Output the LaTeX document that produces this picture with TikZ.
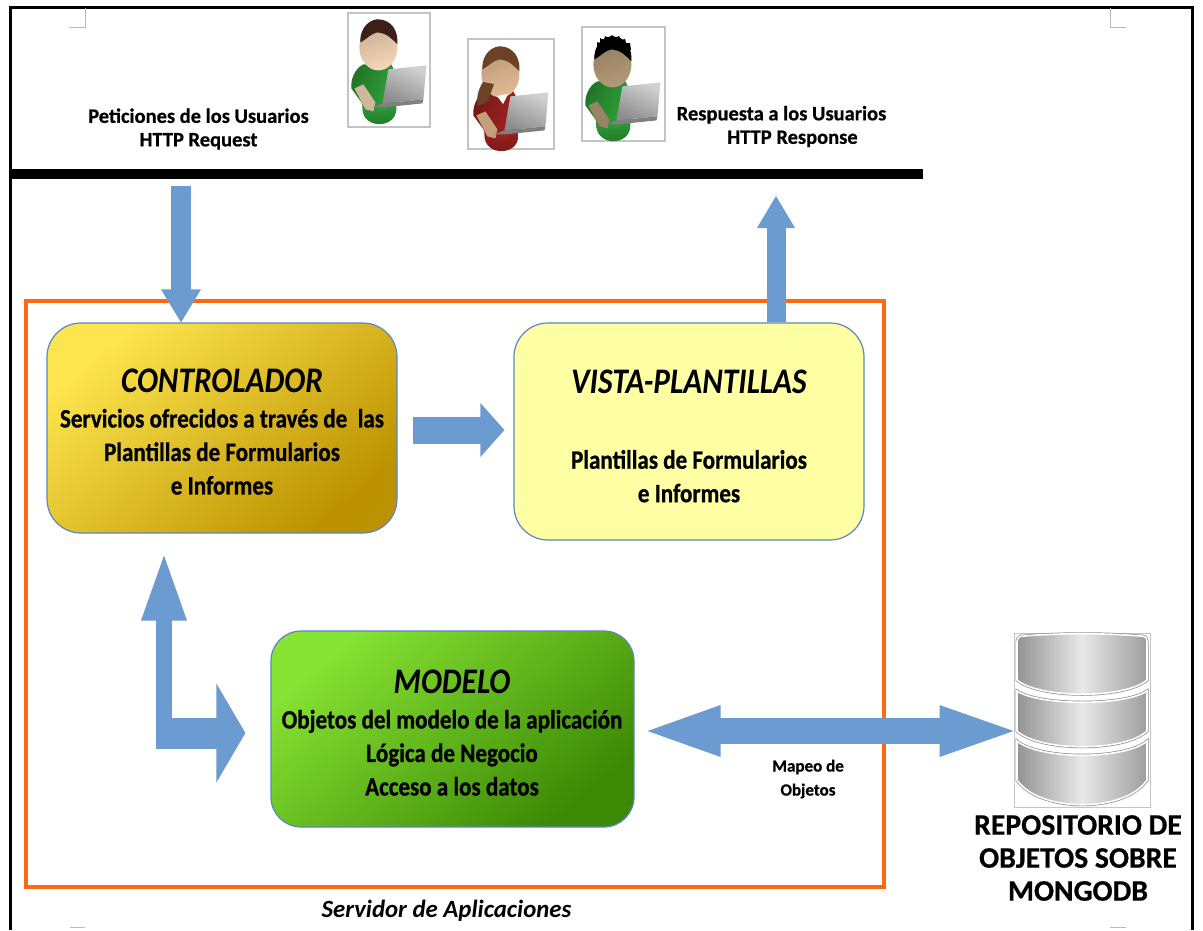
\documentclass[tikz,border=0pt]{standalone}
\usepackage{fontspec}
\setmainfont[BoldFeatures={FakeBold=0.6}]{Carlito}
\newfontfamily\condfont[FakeStretch=0.87,BoldFeatures={FakeBold=0.8}]{Carlito}
\usetikzlibrary{arrows.meta,calc,shadings}
\definecolor{arrowblue}{HTML}{6C9BD1}
\definecolor{boxedge}{HTML}{5B87BF}
\definecolor{serverorange}{HTML}{F96B12}
\definecolor{goldA}{HTML}{FDE54D}
\definecolor{goldB}{HTML}{BC9200}
\definecolor{greenA}{HTML}{86E233}
\definecolor{greenB}{HTML}{3C8905}
\definecolor{paleyellow}{HTML}{FFFFA3}
\definecolor{frameGray}{HTML}{C4C4C4}
\definecolor{shirtGreen}{HTML}{2FA53A}
\definecolor{shirtRed}{HTML}{A5231F}
\definecolor{skinA}{HTML}{F6D6B8}
\definecolor{skinB}{HTML}{E4BC94}
\definecolor{skinC}{HTML}{B49A78}
\definecolor{hairBrown}{HTML}{6B4226}
\definecolor{hairDark}{HTML}{3A2018}
\tikzset{
  x=1pt,y=-1pt,
  flow/.style={draw=arrowblue,line cap=butt},
  % repaints the shaft a little way into the arrow heads so no seam shows
  shaftover/.style 2 args={postaction={draw=arrowblue,arrows=-,shorten <=#1,shorten >=#2}},
  procbox/.style={draw=boxedge,line width=1.2pt,rounded corners=34pt,inner sep=0pt},
  boxtext/.style={align=center,inner sep=0pt,font=\condfont\bfseries\fontsize{26.5}{33.5}\selectfont},
  caption/.style={align=center,inner sep=0pt,font=\bfseries\fontsize{20.5}{23.5}\selectfont},
  cropmark/.style={draw=black!28,line width=1pt},
  dbseg/.style={left color=black!42,right color=black!38,middle color=black!9,draw=white,line width=1.6pt,
    preaction={draw=black!45,line width=3pt}},
  portrait/.style={draw=frameGray,line width=1.2pt,fill=white,inner sep=0pt}
}
% One person with a laptop: frame node name, centre x, centre y, width, height,
% figure shift x, figure shift y, shirt, skin; the hair colour comes from \hairtone
\newcommand{\usericon}[9]{%
  \node[portrait,minimum width=#4,minimum height=#5] (#1) at (#2,#3) {};
  \begin{scope}[shift={($(#1.north west)+(#6,#7)$)}]
    \shade[top color=#8,bottom color=#8!70!black] (15,96) .. controls (15,117) and (49,117) .. (49,96) -- (49,85) -- (15,85) -- cycle;
    \shade[left color=#8!70!black,right color=#8,shading angle=70]
      (16,52) .. controls (7,56) and (3,68) .. (4,76) -- (14,90) -- (18,100) -- (38,98) -- (48,60) -- (44,52) -- cycle;
    \fill[#9!85!black] (7,76) -- (16,72) -- (28,90) -- (26,99) -- (18,97) -- cycle;
    \shade[left color=#9!82!black,right color=#9,shading angle=20] (31,35) ellipse [x radius=19,y radius=23];
    \fill[\hairtone] (13,30) .. controls (12,14) and (24,6) .. (32,7) .. controls (44,8) and (51,18) .. (50,32) .. controls (44,26) and (40,21) .. (30,20) .. controls (24,21) and (20,26) .. (13,30) -- cycle;
    \shade[top color=black!18,bottom color=black!45,shading angle=-25] (41,57) -- (79,53) -- (76,87) -- (35,91) -- cycle;
    \fill[black!50] (25,95) -- (35,91) -- (76,87) -- (75,91) -- (36,95) -- cycle;
  \end{scope}}
\begin{document}
\begin{tikzpicture}
  \useasboundingbox (0,0) rectangle (1203,930);
  \fill[white] (0,0) rectangle (1203,930);

  % page border and margin marks
  \draw[line width=3pt] (10.5,930) -- (10.5,7) -- (1192,7) -- (1192,930);
  \draw[cropmark] (85,8) -- (85,27) -- (69,27);
  \draw[cropmark] (1110,8) -- (1110,27) -- (1126,27);
  \draw[cropmark] (70,927) -- (85,927);
  \draw[cropmark] (1110,927) -- (1126,927);

  % users
  \def\hairtone{hairDark}
  \usericon{userA}{389}{70}{82}{114}{0}{0}{shirtGreen}{skinA}
  \def\hairtone{hairBrown}
  \usericon{userB}{511}{94}{86}{110}{2}{1}{shirtRed}{skinB}
  \fill[hairBrown] (483,82) .. controls (478,90) and (476,98) .. (478,106) -- (488,101) -- (494,84) -- cycle;
  \fill[white] (497,96) -- (503,104) -- (508,94) -- cycle;
  \def\hairtone{black}
  \usericon{userC}{623.5}{84}{83}{114}{0}{3}{shirtGreen}{skinC}
  % short spiky hair
  \fill[black] (597,47) -- (597,42) -- (600,43) -- (600,38) -- (604,40) -- (605,36) -- (609,38) -- (612,35) -- (615,38) -- (619,36) -- (621,40) -- (625,39) -- (626,43) -- (630,43) -- (631,50) -- (612,44) -- cycle;

  \node[caption] (request) at (198.5,129) {Peticiones de los Usuarios\\HTTP Request};
  \node[caption] (response) at (781.5,126.5) {Respuesta a los Usuarios\\\hspace*{22pt}HTTP Response};

  % network bar
  \node[fill=black,inner sep=0pt,minimum width=913,minimum height=10] (network) at (466.5,174) {};

  % application server frame
  \node[draw=serverorange,line width=4pt,inner sep=0pt,minimum width=858,minimum height=586] (server) at (455,594) {};
  \node[inner sep=0pt,font=\bfseries\itshape\fontsize{24.8}{24.8}\selectfont] (servername) at (446.5,911) {Servidor de Aplicaciones};

  % components
  \node[procbox,minimum width=350,minimum height=210,left color=goldA,right color=goldB,middle color=goldA!50!goldB,shading angle=40] (ctrl) at (222,428) {};
  \node[procbox,minimum width=350,minimum height=217,fill=paleyellow] (view) at (689,431.5) {};
  \node[procbox,minimum width=363,minimum height=196,left color=greenA,right color=greenB,middle color=greenA!50!greenB,shading angle=40,rounded corners=30pt] (model) at (452.5,729) {};

  \node[boxtext] (ctrltext) at (222,432) {{\fontsize{36}{36}\selectfont\itshape CONTROLADOR}\\[1pt]Servicios ofrecidos a través de\ \ las\\Plantillas de Formularios\\e Informes};
  \node[boxtext] (viewtext) at (689,436) {{\fontsize{36}{36}\selectfont\itshape VISTA-PLANTILLAS}\\[42pt]Plantillas de Formularios\\e Informes};
  \node[boxtext] (modeltext) at (452,733) {{\fontsize{36}{36}\selectfont\itshape MODELO}\\[1pt]Objetos del modelo de la aplicación\\Lógica de Negocio\\Acceso a los datos};

  % object repository
  \node[draw=frameGray,line width=1pt,fill=white,inner sep=0pt,minimum width=136,minimum height=174] (db) at (1082,720) {};
  \path[dbseg] (1017,642) .. controls (1017,637) and (1020,636) .. (1024,636) .. controls (1060,633) and (1105,633) .. (1140,636) .. controls (1145,636) and (1147,637) .. (1147,642) -- (1147,680) .. controls (1125,699) and (1040,699) .. (1017,680) -- cycle;
  \path[dbseg] (1017,691) .. controls (1040,706) and (1125,706) .. (1147,691) -- (1147,731) .. controls (1125,752) and (1040,752) .. (1017,731) -- cycle;
  \path[dbseg] (1017,741) .. controls (1040,760) and (1125,760) .. (1147,741) -- (1147,780) .. controls (1125,813) and (1040,813) .. (1017,780) -- cycle;
  \node[inner sep=0pt,align=center,font=\bfseries\fontsize{29.7}{33}\selectfont] (dbname) at (1078,858) {REPOSITORIO DE\\OBJETOS SOBRE\\MONGODB};

  % data flows between the layers
  \coordinate (reqstart) at (181,186);
  \draw[flow,line width=20pt,-{Triangle[length=33pt,width=40pt,line width=0pt]},shaftover={0pt}{31pt}] (reqstart) -- (reqstart |- ctrl.north);
  \coordinate (respend) at (776,196);
  \draw[flow,line width=19pt,-{Triangle[length=32pt,width=38pt,line width=0pt]},shaftover={0pt}{30pt}] (respend |- view.north) -- (respend);
  \draw[flow,line width=27pt,shorten <=15pt,shorten >=9pt,-{Triangle[length=24pt,width=54pt,line width=0pt]},shaftover={15pt}{31pt}] ([yshift=-2pt]ctrl.east) -- ([yshift=-2pt]view.west |- ctrl.east);
  \coordinate (elbow) at (164,733);
  \draw[flow,line width=16pt,shorten >=22pt,-{Triangle[length=65pt,width=46pt,line width=0pt]},shaftover={0pt}{85pt}] ($(elbow)+(0,15.5)$) -- (elbow |- ctrl.south);
  \draw[flow,line width=31pt,shorten >=25pt,-{Triangle[length=29pt,width=99pt,line width=0pt]},shaftover={0pt}{52pt}] ($(elbow)+(-8,0)$) -- (elbow -| model.west);
  \draw[flow,line width=26pt,shorten <=13pt,{Triangle[length=73pt,width=52pt,line width=0pt]}-{Triangle[length=74pt,width=52pt,line width=0pt]},shaftover={84pt}{72pt}] ([yshift=-2pt]model.east) -- ([yshift=-2pt]model.east -| db.west);
  \node[caption,font=\bfseries\fontsize{17}{24}\selectfont] (mapping) at (808,779) {Mapeo de\\Objetos};
\end{tikzpicture}
\end{document}
